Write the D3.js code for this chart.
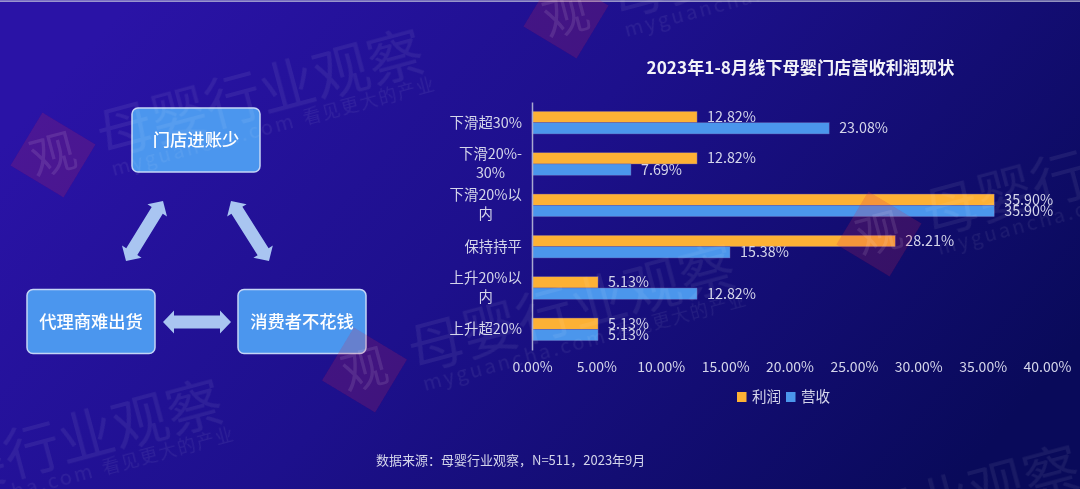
<!doctype html>
<html>
<head>
<meta charset="utf-8" />
<script src="https://cdnjs.cloudflare.com/ajax/libs/d3/7.8.5/d3.min.js"></script>
<style>
  html, body { margin: 0; padding: 0; background: #150c78; overflow: hidden; }
  text { font-family: "Noto Sans CJK SC", "Noto Sans", sans-serif; }
</style>
</head>
<body>
<svg id="chart" width="1080" height="489"></svg>
<script>
  // chart data
  const categories = ["下滑超30%", "下滑20%-30%", "下滑20%以内", "保持持平", "上升20%以内", "上升超20%"];
  const categoryLines = [["下滑超30%"], ["下滑20%-", "30%"], ["下滑20%以", "内"], ["保持持平"], ["上升20%以", "内"], ["上升超20%"]];
  const profit = [12.82, 12.82, 35.90, 28.21, 5.13, 5.13];
  const revenue = [23.08, 7.69, 35.90, 15.38, 12.82, 5.13];
  const seriesNames = ["利润", "营收"];
  const xTicks = [0, 5, 10, 15, 20, 25, 30, 35, 40];
  const title = "2023年1-8月线下母婴门店营收利润现状";
  const source = "数据来源：母婴行业观察，N=511，2023年9月";
  const diagramLabels = ["门店进账少", "代理商难出货", "消费者不花钱"];

  const orange = "#fdb136";
  const blue = "#4b96ec";
  const labelColor = "#d4d5ea";

  const svg = d3.select("#chart");
  const defs = svg.append("defs");

  const bg = defs.append("linearGradient").attr("id", "bg")
    .attr("x1", "0%").attr("y1", "30%").attr("x2", "100%").attr("y2", "70%");
  bg.append("stop").attr("offset", "0%").attr("stop-color", "#2a13a6");
  bg.append("stop").attr("offset", "45%").attr("stop-color", "#1d108c");
  bg.append("stop").attr("offset", "100%").attr("stop-color", "#090a5a");

  defs.append("filter").attr("id", "soft")
    .append("feGaussianBlur").attr("stdDeviation", 0.55);

  svg.append("rect").attr("width", 1080).attr("height", 489).attr("fill", "url(#bg)");
  svg.append("rect").attr("x", 0).attr("y", 0.5).attr("width", 1080).attr("height", 1.2).attr("fill", "#c9cce0");

  const soft = svg.append("g").attr("filter", "url(#soft)");

  // left diagram
  const boxW = 128, boxH = 64;
  const nodes = [[196, 140], [91, 321.5], [302, 321.5]];
  const box = soft.append("g").selectAll("g").data(diagramLabels).join("g")
    .attr("transform", (d, i) => `translate(${nodes[i][0]},${nodes[i][1]})`);
  box.append("rect")
    .attr("x", -boxW / 2).attr("y", -boxH / 2).attr("width", boxW).attr("height", boxH)
    .attr("rx", 6).attr("fill", "#4c96ee").attr("stroke", "#c4d6f6").attr("stroke-width", 1.5);
  box.append("text").attr("text-anchor", "middle").attr("dy", "0.36em")
    .attr("font-size", 17.3).attr("font-weight", 500).attr("fill", "#ffffff").text(d => d);

  function doubleArrow(x1, y1, x2, y2) {
    const len = Math.hypot(x2 - x1, y2 - y1), head = 11, shaft = 6.5, wing = 11.5;
    const pts = [[0, 0], [head, -wing], [head, -shaft], [len - head, -shaft], [len - head, -wing],
      [len, 0], [len - head, wing], [len - head, shaft], [head, shaft], [head, wing]];
    soft.append("path")
      .attr("d", d3.line()(pts) + "Z")
      .attr("transform", `translate(${x1},${y1}) rotate(${Math.atan2(y2 - y1, x2 - x1) * 180 / Math.PI})`)
      .attr("fill", "#a9c5f1");
  }
  doubleArrow(163, 201, 126, 261);
  doubleArrow(231, 201, 269, 261);
  doubleArrow(163, 322, 231, 322);

  // bar chart
  const x = d3.scaleLinear().domain([0, 40]).range([532, 1047]);
  const y = d3.scaleBand().domain(categories).range([102, 350]).paddingInner(0.453).paddingOuter(0.2265);
  const chart = soft.append("g");
  const barH = y.bandwidth() / 2;

  const rows = [profit, revenue];
  rows.forEach((values, s) => {
    const color = s === 0 ? orange : blue;
    chart.append("g").selectAll("rect").data(values).join("rect")
      .attr("x", x(0)).attr("y", (d, i) => y(categories[i]) + s * barH)
      .attr("width", d => x(d) - x(0)).attr("height", barH)
      .attr("fill", color).attr("stroke", "#6a5aa8").attr("stroke-width", 0.4);
    chart.append("g").selectAll("text").data(values).join("text")
      .attr("x", d => x(d) + 10).attr("y", (d, i) => y(categories[i]) + s * barH + barH / 2)
      .attr("dy", "0.35em").attr("font-size", 14.3).attr("fill", labelColor)
      .text(d => d.toFixed(2) + "%");
  });

  const xAxis = chart.append("g").attr("transform", "translate(0,350)")
    .call(d3.axisBottom(x).tickValues(xTicks).tickSize(0).tickPadding(12).tickFormat(d => d.toFixed(2) + "%"));
  xAxis.select(".domain").remove();
  xAxis.selectAll("text").attr("font-size", 14).attr("fill", labelColor).style("font-family", null);

  const yAxis = chart.append("g").attr("transform", "translate(532,0)")
    .call(d3.axisLeft(y).tickSize(0).tickFormat(""));
  yAxis.select(".domain").attr("stroke", "#a9a9d0").attr("stroke-width", 1.5);
  yAxis.selectAll(".tick text").remove();

  yAxis.selectAll(".tick").each(function (d, i) {
    const lines = categoryLines[i];
    const g = d3.select(this);
    const first = g.append("text").attr("x", -10).attr("text-anchor", "end")
      .attr("font-size", 14.4).attr("fill", labelColor)
      .attr("y", lines.length > 1 ? -5 : 5).text(lines[0]);
    if (lines.length > 1) {
      const w = first.node().getComputedTextLength();
      g.append("text").attr("x", -10 - w / 2).attr("text-anchor", "middle")
        .attr("font-size", 14.4).attr("fill", labelColor)
        .attr("y", 14).text(lines[1]);
    }
  });

  // legend
  const legend = chart.append("g");
  const legendX = [737, 786];
  seriesNames.forEach((name, i) => {
    legend.append("rect").attr("x", legendX[i]).attr("y", 392).attr("width", 9.5).attr("height", 10)
      .attr("fill", i === 0 ? orange : blue);
    legend.append("text").attr("x", legendX[i] + 15).attr("y", 397).attr("dy", "0.35em")
      .attr("font-size", 14.6).attr("fill", labelColor).text(name);
  });

  // title and source
  soft.append("text").attr("x", 800.5).attr("y", 68).attr("dy", "0.35em").attr("text-anchor", "middle")
    .attr("font-size", 17.2).attr("font-weight", 700).attr("fill", "#f2f2f8").text(title);
  soft.append("text").attr("x", 376).attr("y", 460).attr("dy", "0.35em")
    .attr("font-size", 13).attr("fill", labelColor).text(source);

  // watermarks sit over everything, the bars show through them
  const marks = svg.append("g").attr("filter", "url(#soft)");
  function watermark(cx, cy, showSquare) {
    if (showSquare) {
      marks.append("rect").attr("x", -31).attr("y", -31).attr("width", 62).attr("height", 62)
        .attr("transform", `translate(${cx},${cy}) rotate(31)`)
        .attr("fill", "#d0204a").attr("opacity", 0.2);
    }
    const g = marks.append("g").attr("transform", `translate(${cx},${cy}) rotate(-15)`);
    if (showSquare) {
      g.append("text").attr("text-anchor", "middle").attr("y", 16).attr("font-size", 46)
        .attr("fill", "#ffffff").attr("opacity", 0.1).text("观");
    }
    g.append("text").attr("x", 48).attr("y", 14).attr("font-size", 56)
      .attr("fill", "#ffffff").attr("opacity", 0.065).text("母婴行业观察");
    const url = g.append("text").attr("x", 53).attr("y", 36).attr("fill", "#ffffff").attr("opacity", 0.065);
    url.append("tspan").attr("font-size", 20).attr("letter-spacing", 2.7).text("myguancha.com");
    url.append("tspan").attr("dx", 8).attr("font-size", 18).attr("letter-spacing", 1.5).text("看见更大的产业");
  }
  watermark(53, 155, true);
  watermark(566, 16, true);
  watermark(879, 234, true);
  watermark(364.5, 370, true);
  watermark(-148, 505, false);
  watermark(709, 571, false);
</script>
</body>
</html>
